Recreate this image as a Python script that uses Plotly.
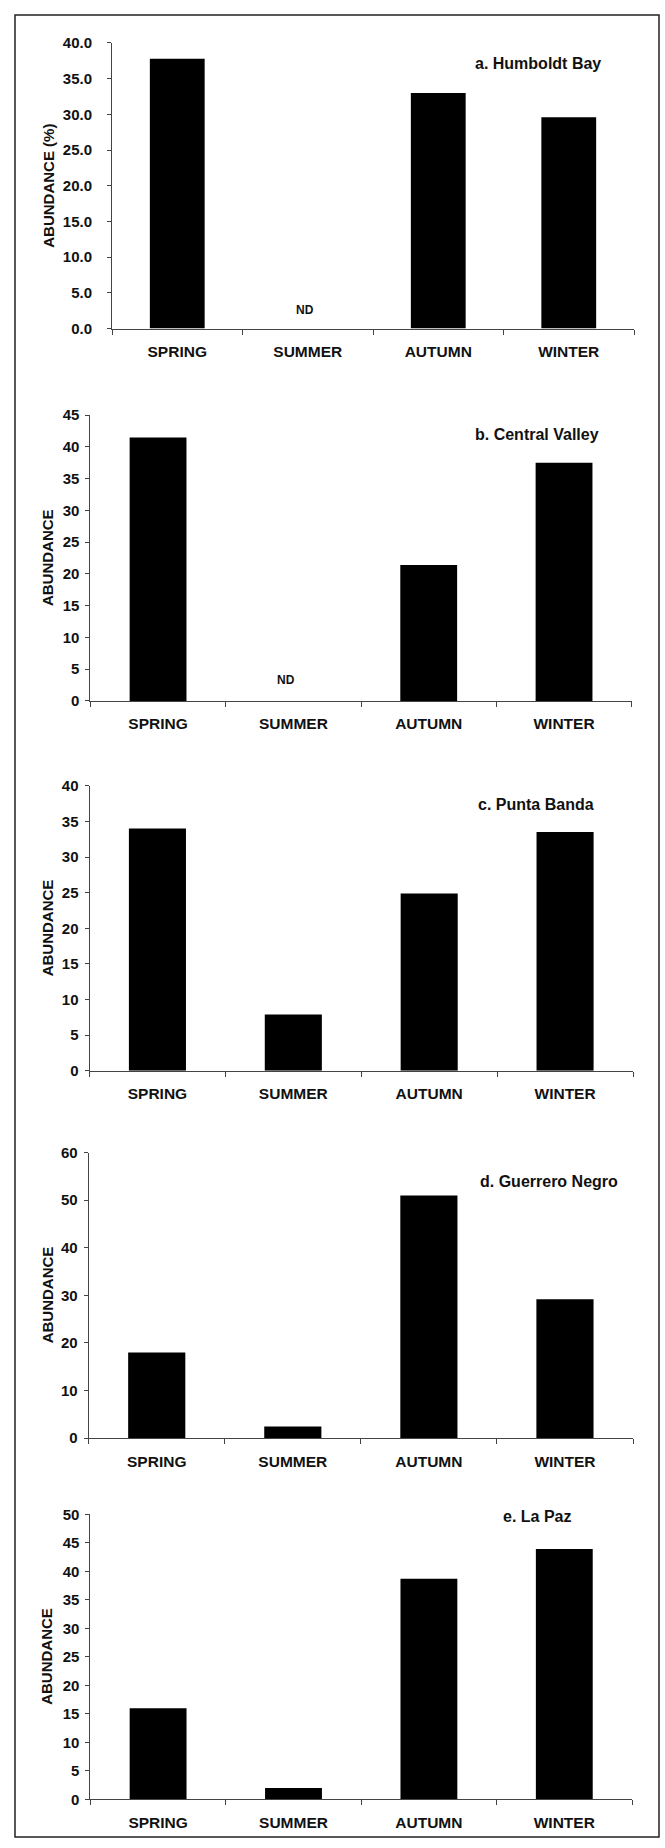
import plotly.graph_objects as go

# ---------------- data ----------------
seasons = ["SPRING", "SUMMER", "AUTUMN", "WINTER"]
humboldt_bay = [37.8, None, 33.0, 29.6]
central_valley = [41.5, None, 21.4, 37.5]
punta_banda = [34.0, 7.9, 24.9, 33.5]
guerrero_negro = [18.0, 2.4, 51.0, 29.2]
la_paz = [16.0, 2.0, 38.7, 43.9]

panel_titles = ["a. Humboldt Bay", "b. Central Valley", "c. Punta Banda",
                "d. Guerrero Negro", "e. La Paz"]
y_titles = ["ABUNDANCE (%)", "ABUNDANCE", "ABUNDANCE", "ABUNDANCE", "ABUNDANCE"]
y_max = [40, 45, 40, 60, 50]
y_dtick = [5, 5, 5, 10, 5]
y_format = [".1f", "d", "d", "d", "d"]
series = [humboldt_bay, central_valley, punta_banda, guerrero_negro, la_paz]

# ---------------- layout geometry (pixels) ----------------
W, H = 665, 1848
# (x_left, x_right, y_top, y_bottom) of each plot area
boxes = [
    (112.0, 634.0, 34.3, 322.5),
    (90.4, 631.7, 410.0, 698.3),
    (89.5, 633.0, 784.0, 1071.7),
    (88.7, 633.0, 1154.3, 1442.3),
    (90.4, 632.0, 1519.3, 1807.0),
]
title_pos = [(538, 55), (537, 429), (536, 803), (549, 1183), (537, 1522)]
ytitle_x = [49, 47, 47, 47, 47]
ylab_standoff = [12, 3, 3, 3, 3]
nd_pos = [(305, 304), (286, 677)]

FONT = "Liberation Sans, Arial, Helvetica, sans-serif"
INK = "#111111"
AXC = "#444444"

def fx(v):
    return v / W

def fy(v):
    return 1 - v / H

fig = go.Figure()
annotations = []
layout_axes = {}

for i, vals in enumerate(series):
    n = i + 1
    xa = "x" if n == 1 else f"x{n}"
    ya = "y" if n == 1 else f"y{n}"
    fig.add_trace(go.Bar(
        x=seasons, y=vals, xaxis=xa, yaxis=ya,
        marker=dict(color="#000000", line=dict(width=0)),
        width=0.42, showlegend=False, hoverinfo="x+y",
    ))
    x0, x1, y0, y1 = boxes[i]
    xkey = "xaxis" if n == 1 else f"xaxis{n}"
    ykey = "yaxis" if n == 1 else f"yaxis{n}"
    layout_axes[xkey] = dict(
        domain=[fx(x0), fx(x1)], anchor=ya,
        type="category", categoryorder="array", categoryarray=seasons,
        range=[-0.5, 3.5],
        showline=True, linecolor=AXC, linewidth=1,
        ticks="outside", tickson="boundaries", ticklen=5, tickcolor=AXC, tickwidth=1,
        tickfont=dict(family=FONT, size=15.5, color=INK, weight="bold"),
        ticklabelstandoff=9,
        showgrid=False, zeroline=False, fixedrange=True,
    )
    layout_axes[ykey] = dict(
        domain=[fy(y1), fy(y0)], anchor=xa,
        range=[0, y_max[i]], dtick=y_dtick[i], tick0=0, tickformat=y_format[i],
        showline=True, linecolor=AXC, linewidth=1,
        ticks="outside", ticklen=4, tickcolor=AXC, tickwidth=1,
        tickfont=dict(family=FONT, size=15, color=INK, weight="bold"),
        ticklabelstandoff=ylab_standoff[i],
        showgrid=False, zeroline=False, fixedrange=True,
    )
    tx, ty = title_pos[i]
    annotations.append(dict(
        text=panel_titles[i], xref="paper", yref="paper",
        x=fx(tx), y=fy(ty), xanchor="center", yanchor="middle",
        showarrow=False, font=dict(family=FONT, size=16, color=INK, weight="bold"),
    ))
    annotations.append(dict(
        text=y_titles[i], xref="paper", yref="paper",
        x=fx(ytitle_x[i]), y=fy((y0 + y1) / 2), xanchor="center", yanchor="middle",
        textangle=-90, showarrow=False,
        font=dict(family=FONT, size=15, color=INK, weight="bold"),
    ))

for (nx, ny) in nd_pos:
    annotations.append(dict(
        text="ND", xref="paper", yref="paper", x=fx(nx), y=fy(ny),
        xanchor="center", yanchor="middle", showarrow=False,
        font=dict(family=FONT, size=12, color=INK, weight="bold"),
    ))

fig.update_layout(
    width=W, height=H,
    margin=dict(l=0, r=0, t=0, b=0),
    paper_bgcolor="white", plot_bgcolor="white",
    bargap=0.58,
    annotations=annotations,
    shapes=[dict(type="rect", xref="paper", yref="paper",
                 x0=fx(15), x1=fx(659), y0=fy(1845), y1=fy(6),
                 line=dict(color="#222222", width=1.5))],
    **layout_axes,
)

fig.write_html(
    "out.html",
    config={"displayModeBar": False},
    post_script="document.body.style.margin='0';document.body.style.overflow='hidden';",
)
